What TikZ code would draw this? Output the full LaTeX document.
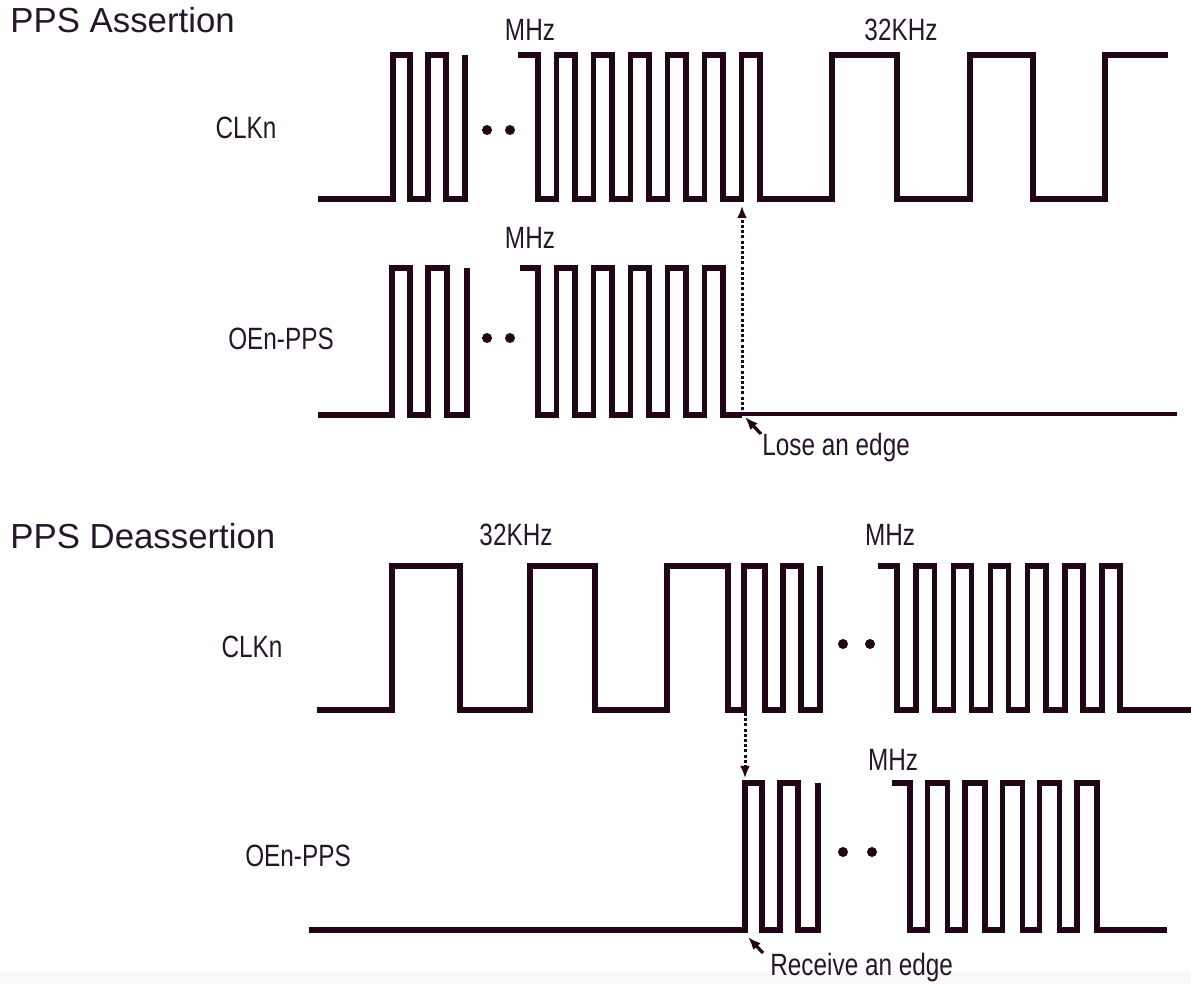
\documentclass[tikz,border=0pt]{standalone}
\usepackage{fontspec}
\setmainfont{Liberation Sans}
\newfontfamily\narrowsf[FakeStretch=0.79]{Liberation Sans}
\usepackage{xcolor}
\usetikzlibrary{arrows.meta}
\definecolor{sigcol}{RGB}{32,6,22}
\definecolor{txtcol}{RGB}{38,22,42}

\begin{document}
\begin{tikzpicture}[x=0.5pt,y=-0.5pt,
  sig/.style={line width=2.7pt,draw=sigcol},
  trig/.style={line width=1.5pt,draw=sigcol,dash pattern=on 1.5pt off 1.1pt,
    -{Latex[length=6pt,width=5pt]}},
  callout/.style={line width=1.6pt,draw=sigcol,-{Latex[length=6.5pt,width=5pt]}},
  ellip/.style={circle,fill=sigcol,inner sep=0pt,minimum size=5pt},
  ttl/.style={font=\fontsize{17.4}{20}\selectfont,text=txtcol,inner sep=0pt},
  lbl/.style={font=\fontsize{15.4}{18}\selectfont\narrowsf,text=txtcol,inner sep=0pt}]
\useasboundingbox (0,0) rectangle (1191,984);
\fill[gray!5] (0,972) rectangle (1191,984);
% ---------------- PPS assertion ----------------
\node[ttl,anchor=base west] (titleA) at (10,33) {PPS Assertion};
\node[lbl,anchor=base] (mhzA1) at (530,41) {MHz};
\node[lbl,anchor=base] (khzA) at (901,41) {32KHz};
\node[lbl,anchor=base] (clkA) at (246,139) {CLKn};
\node[lbl,anchor=base] (mhzA2) at (530,249) {MHz};
\node[lbl,anchor=base] (oenA) at (281,350) {OEn-PPS};
% CLKn, high 55, low 199
\draw[sig] (318,199) -| (393,55) -| (410,199) -| (428,55) -| (446,199) -| (465,55);
\draw[sig] (518,55) \foreach \i in {0,...,5} {
    -| ({538+37*\i},199) -| ({556.5+37*\i},55) }
  -| (760,199) -| (832,55) -| (897,199) -| (970,55) -| (1033,199) -| (1105,55)
  -- (1168,55);
% OEn-PPS, high 268, low 415
\draw[sig] (318,415) -| (392,268) -| (410,415) -| (428,268) -| (447,415) -| (467,268);
\draw[sig] (520,268) \foreach \i in {0,...,4} {
    -| ({538+37*\i},415) -| ({556.5+37*\i},268) }
  -| (723,415) -- (742,415);
\draw[sig,line width=1.9pt] (742,414) -- (1177,414);
\foreach \x/\y in {487/130,510/130,487/338,510/338} \node[ellip] at (\x,\y) {};
% lost edge
\coordinate (loseA) at (742,410);
\coordinate (loseB) at (742,206);
\draw[trig] (loseA) -- (loseB);
\node[lbl,anchor=base west] (loseTxt) at (762,456) {Lose an edge};
\coordinate (loseTail) at (761,434);
\coordinate (loseTip) at (745,417);
\draw[callout] (loseTail) -- (loseTip);
% ---------------- PPS deassertion ----------------
\node[ttl,anchor=base west] (titleD) at (10,549) {PPS Deassertion};
\node[lbl,anchor=base] (khzD) at (516,546) {32KHz};
\node[lbl,anchor=base] (mhzD1) at (890,546) {MHz};
\node[lbl,anchor=base] (clkD) at (252,658) {CLKn};
\node[lbl,anchor=base] (mhzD2) at (893,770) {MHz};
\node[lbl,anchor=base] (oenD) at (298,866) {OEn-PPS};
% CLKn, high 566, low 710
\draw[sig] (317,710) -| (392,566) -| (460,710) -| (530,566) -| (595,710) -| (667,566)
  -| (728,710) -| (744,566) -| (765,710) -| (783,566) -| (801,710) -| (820,566);
\draw[sig] (878,566) \foreach \i in {0,...,5} {
    -| ({897+37.2*\i},710) -| ({916+37.2*\i},566) }
  -| (1120,710) -- (1191,710);
% OEn-PPS, high 783, low 930
\draw[sig] (309,930) -| (745,783) -| (762,930) -| (780,783) -| (798,930) -| (818,783);
\draw[sig] (892,783) \foreach \i in {0,...,4} {
    -| ({910+37.4*\i},930) -| ({927.5+37.4*\i},783) }
  -| (1097,930) -- (1167,930);
\foreach \x/\y in {843/644,870/644,843/852,872/852} \node[ellip] at (\x,\y) {};
% received edge
\coordinate (recvA) at (745,713);
\coordinate (recvB) at (745,778);
\draw[trig] (recvA) -- (recvB);
\node[lbl,anchor=base west] (recvTxt) at (770,975) {Receive an edge};
\coordinate (recvTail) at (763,953);
\coordinate (recvTip) at (748,937);
\draw[callout] (recvTail) -- (recvTip);
\end{tikzpicture}
\end{document}
